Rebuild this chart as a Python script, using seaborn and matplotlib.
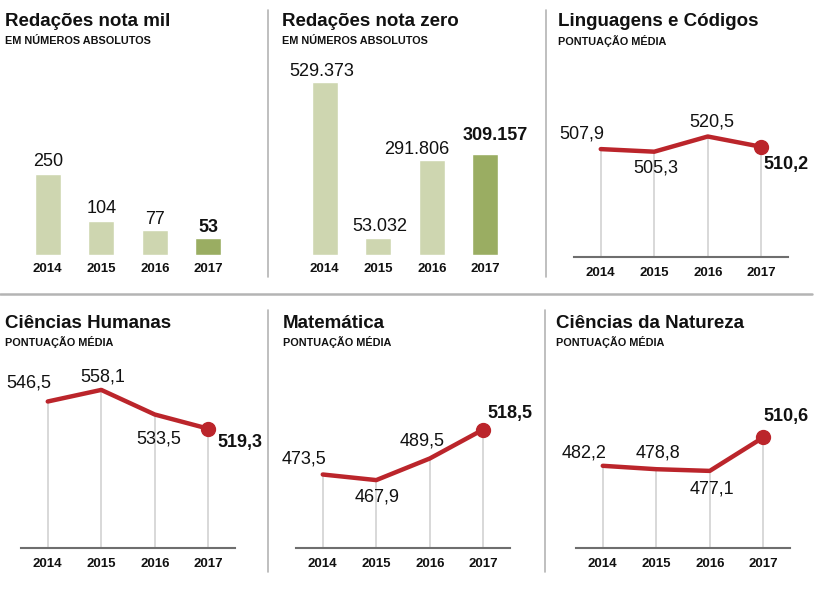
import matplotlib
matplotlib.use("Agg")
import matplotlib.pyplot as plt
import seaborn as sns
import pandas as pd
from matplotlib.lines import Line2D

sns.set_theme(style="white")
plt.rcParams['font.family'] = ['Liberation Sans', 'DejaVu Sans']

# ---------------- data ----------------
years = ["2014", "2015", "2016", "2017"]

mil_values = [250, 104, 77, 53]
mil_labels = ["250", "104", "77", "53"]

zero_values = [529373, 53032, 291806, 309157]
zero_labels = ["529.373", "53.032", "291.806", "309.157"]

ling_values = [507.9, 505.3, 520.5, 510.2]
hum_values = [546.5, 558.1, 533.5, 519.3]
mat_values = [473.5, 467.9, 489.5, 518.5]
nat_values = [482.2, 478.8, 477.1, 510.6]

titles = ["Redações nota mil", "Redações nota zero", "Linguagens e Códigos",
          "Ciências Humanas", "Matemática", "Ciências da Natureza"]
subtitles = ["EM NÚMEROS ABSOLUTOS", "EM NÚMEROS ABSOLUTOS", "PONTUAÇÃO MÉDIA",
             "PONTUAÇÃO MÉDIA", "PONTUAÇÃO MÉDIA", "PONTUAÇÃO MÉDIA"]

# ---------------- style ----------------
W, H = 821, 589
LIGHT = "#ced6b0"
DARK = "#9aad62"
RED = "#bb252b"
GRID = "#d6d6d6"
SEP = "#b4b4b4"
TXT = "#111111"

fig = plt.figure(figsize=(W / 100, H / 100), dpi=100)
fig.patch.set_facecolor("white")


def px_axes(left, top, width, height):
    return fig.add_axes([left / W, 1 - (top + height) / H, width / W, height / H])


def clean(ax):
    for s in ax.spines.values():
        s.set_visible(False)
    ax.set_yticks([])
    ax.set_ylabel("")
    ax.set_xlabel("")
    ax.set_facecolor("none")
    ax.tick_params(axis="x", length=0, pad=7)
    for t in ax.get_xticklabels():
        t.set_fontsize(9.5)
        t.set_fontweight("bold")
        t.set_color(TXT)


def title(x, y, t, s):
    fig.text(x / W, 1 - y / H, t, fontsize=13.5, fontweight="bold", color=TXT,
             ha="left", va="center")
    fig.text(x / W, 1 - (y + 19) / H, s, fontsize=7.8, fontweight="bold", color=TXT,
             ha="left", va="center", family=['Liberation Sans Narrow', 'Liberation Sans', 'DejaVu Sans'])


def bar_panel(left, values, labels, px_per_unit, offsets):
    top, height = 55, 200
    ax = px_axes(left, top, 214, height)
    df = pd.DataFrame({"ano": years, "v": values})
    pal = [LIGHT, LIGHT, LIGHT, DARK]
    sns.barplot(data=df, x="ano", y="v", hue="ano", palette=pal, legend=False,
                width=0.49, saturation=1, ax=ax)
    ax.set_xlim(-0.5, 3.5)
    ax.set_ylim(0, height / px_per_unit)
    for i, (v, lab) in enumerate(zip(values, labels)):
        dx, dy = offsets[i]
        ax.annotate(lab, (i, v), xytext=(dx, dy), textcoords="offset pixels",
                    ha="center", va="bottom", fontsize=13, color=TXT,
                    fontweight="bold" if i == 3 else "normal")
    clean(ax)
    ax.tick_params(axis="x", pad=6)


def line_panel(left, top, values, offsets):
    base = 400
    height = (257 if top < 200 else 548) - top
    ax = px_axes(left, top, 214, height)
    df = pd.DataFrame({"ano": years, "v": values})
    ax.set_xlim(-0.5, 3.5)
    ax.set_ylim(base, base + height)
    for i, v in enumerate(values):
        ax.plot([i, i], [base, v], color=GRID, lw=1.3, zorder=1)
    sns.lineplot(data=df, x="ano", y="v", color=RED, lw=3.2, sort=False, ax=ax, zorder=3)
    ax.plot([3], [values[3]], "o", color=RED, ms=10, zorder=4, clip_on=False)
    for i, v in enumerate(values):
        dx, dy = offsets[i]
        ax.annotate(f"{v:.1f}".replace(".", ","), (i, v), xytext=(dx, dy),
                    textcoords="offset pixels", ha="center", va="center",
                    fontsize=13, color=TXT,
                    fontweight="bold" if i == 3 else "normal")
    clean(ax)
    ax.spines["bottom"].set_visible(True)
    ax.spines["bottom"].set_color("#6e6e6e")
    ax.spines["bottom"].set_linewidth(1.5)
    ax.set_xlim(-0.5, 3.5)
    ax.set_ylim(base, base + height)


# ---------------- panels ----------------
bar_panel(21, mil_values, mil_labels, 0.326, [(0, 4), (0, 4), (0, 2), (0, 2)])
bar_panel(298, zero_values, zero_labels, 173 / 529373, [(-3, 2), (2, 3), (-15, 2), (10, 10)])

line_panel(574, 100, ling_values, [(-19, 15), (2, -16), (4, 15), (25, -18)])
line_panel(21, 370, hum_values, [(-19, 19), (1, 13), (4, -24), (32, -14)])
line_panel(296, 370, mat_values, [(-19, 16), (1, -17), (-8, 17), (27, 16)])
line_panel(576, 370, nat_values, [(-19, 13), (2, 16), (2, -18), (23, 21)])

title(5, 22, titles[0], subtitles[0])
title(282, 22, titles[1], subtitles[1])
title(558, 22, titles[2], subtitles[2])
title(5, 323, titles[3], subtitles[3])
title(283, 323, titles[4], subtitles[4])
title(556, 323, titles[5], subtitles[5])

# ---------------- separators ----------------
def vline(x, y0, y1):
    fig.add_artist(Line2D([x / W, x / W], [1 - y0 / H, 1 - y1 / H], color=SEP, lw=1.2))


vline(268, 10, 277)
vline(546, 10, 277)
vline(268, 310, 572)
vline(545, 310, 572)
fig.add_artist(Line2D([0, 812 / W], [1 - 294 / H, 1 - 294 / H], color=SEP, lw=1.8))

fig.savefig("out.png", dpi=100, facecolor="white")
